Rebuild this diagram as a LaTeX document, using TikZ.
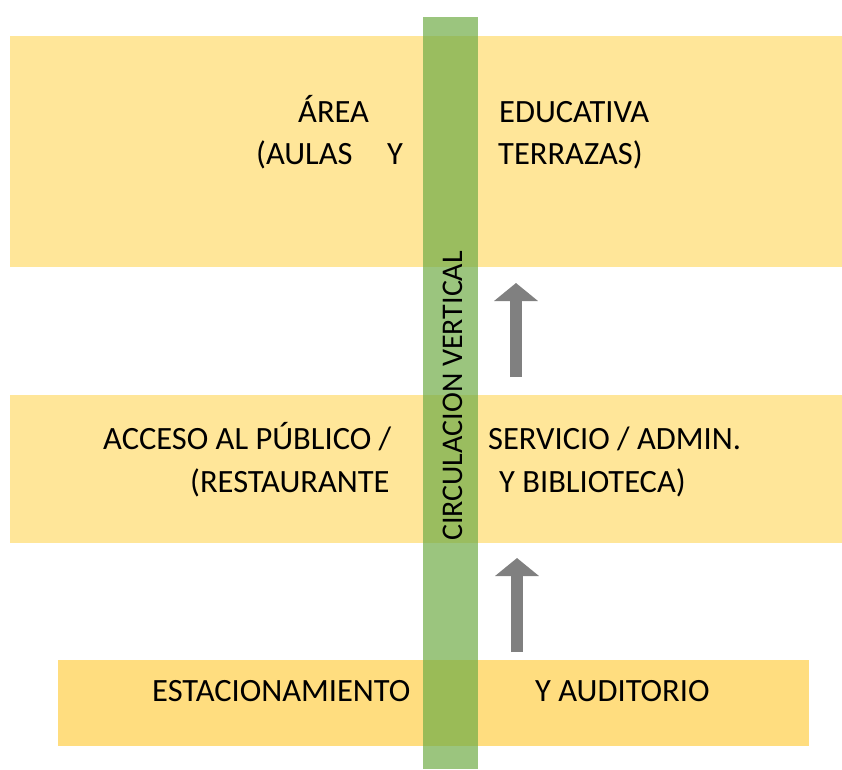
\documentclass[tikz,border=0pt]{standalone}
\usepackage{fontspec}
\setmainfont{Carlito}
\usetikzlibrary{positioning}
\usetikzlibrary{calc}
\usetikzlibrary{arrows.meta}
\definecolor{amarillo}{HTML}{FFE699}
\definecolor{amarillofuerte}{HTML}{FFDD7F}
\definecolor{verde}{HTML}{70AD47}
\definecolor{gris}{HTML}{808080}
\begin{document}
\begin{tikzpicture}[x=1pt, y=-1pt,
    banda/.style={fill=amarillo, draw=none, inner sep=0pt, anchor=north west},
    texto/.style={inner sep=0pt, anchor=base west, font=\fontsize{32.5}{39}\selectfont},
    flecha/.style={-{Triangle[width=43pt,length=18pt]}, line width=12pt, gris}]
            \useasboundingbox (0,0) rectangle (842,769);
            % bandas
            \node[banda, minimum width=832pt, minimum height=231pt] (educativa) at (10,36) {};
            \node[banda, minimum width=832pt, minimum height=148pt] (publico) at (10,395) {};
            \node[banda, fill=amarillofuerte, minimum width=751pt, minimum height=86pt] (estacionamiento) at (58,660) {};
            \fill[verde, opacity=0.7] (423,17) rectangle (478,769);
            
            \node[texto] (area) at (298,122) {ÁREA};
            \node[texto] (educ) at (499,122) {EDUCATIVA};
            \node[texto] (aulas) at (256,164) {(AULAS};
            \node[texto] (y1) at (387,164) {Y};
            \node[texto] (terrazas) at (498,164) {TERRAZAS)};
            \node[texto] (acceso) at (103,449) {ACCESO AL PÚBLICO /};
            \node[texto] (servicio) at (488,449) {SERVICIO / ADMIN.};
            \node[texto] (restaurante) at (190,492) {(RESTAURANTE};
            \node[texto] (biblioteca) at (499,492) {Y BIBLIOTECA)};
            \node[texto] (estac) at (152,701) {ESTACIONAMIENTO};
            \node[texto] (auditorio) at (535,701) {Y AUDITORIO};
            \node[texto, anchor=base, rotate=90, font=\fontsize{30}{36}\selectfont] (circulacion) at (462,396) {CIRCULACION VERTICAL};
            
            \coordinate (a1) at (517,652);
            \coordinate (b1) at (517,558);
            \coordinate (a2) at (516,377);
            \coordinate (b2) at (516,283);
            \draw[flecha] (a1) -- (b1);
            \draw[flecha] (a2) -- (b2);
        \end{tikzpicture}
\end{document}
